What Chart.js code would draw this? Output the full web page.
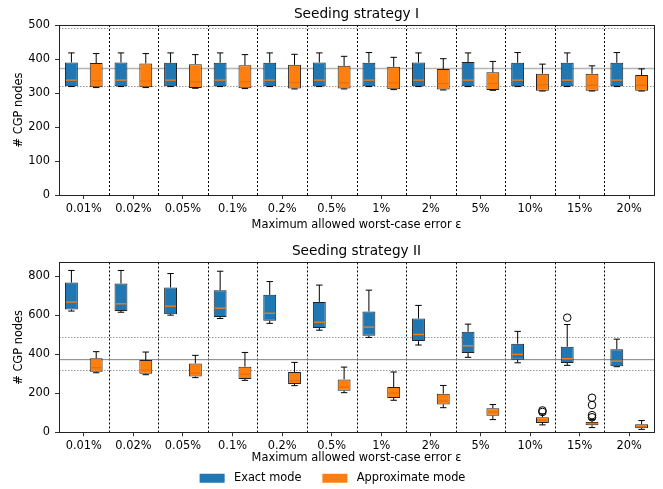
<!DOCTYPE html>
<html>
<head>
<meta charset="utf-8">
<script src="https://cdn.jsdelivr.net/npm/chart.js@4.4.1/dist/chart.umd.min.js"></script>
<style>
body{margin:0;background:#fff;overflow:hidden}
canvas{display:block}
</style>
</head>
<body>
<canvas id="topChart" width="663" height="232"></canvas>
<canvas id="bottomChart" width="663" height="262"></canvas>
<script>
var categories = ['0.01%', '0.02%', '0.05%', '0.1%', '0.2%', '0.5%', '1%', '2%', '5%', '10%', '15%', '20%']

// Seeding strategy I - exact mode
var s1ExactLo  = [319, 319, 319, 319, 319, 319, 319, 319, 319, 319, 319, 319]
var s1ExactQ1  = [320, 320, 320, 320, 320, 320, 320, 320, 320, 320, 320, 320]
var s1ExactMed = [338, 338, 338, 338, 338, 338, 338, 338, 338, 338, 338, 338]
var s1ExactQ3  = [390, 390, 389, 389, 389, 390, 389, 390, 391, 389, 389, 389]
var s1ExactHi  = [418, 418, 418, 418, 418, 418, 419, 418, 418, 419, 418, 419]
// Seeding strategy I - approximate mode
var s1ApproxLo  = [316, 316, 314, 313, 312, 312, 310, 309, 308, 306, 306, 306]
var s1ApproxQ1  = [317, 317, 315, 314, 313, 313, 311, 310, 309, 307, 307, 307]
var s1ApproxMed = [336, 335, 333, 333, 331, 330, 330, 328, 328, 324, 323, 323]
var s1ApproxQ3  = [388, 387, 385, 382, 383, 380, 377, 371, 361, 357, 357, 353]
var s1ApproxHi  = [416, 416, 413, 413, 414, 408, 405, 401, 393, 385, 380, 371]

// Seeding strategy II - exact mode
var s2ExactLo  = [621, 615, 600, 583, 558, 523, 486, 447, 384, 356, 343, 336]
var s2ExactQ1  = [629, 621, 605, 590, 571, 534, 494, 467, 406, 372, 355, 338]
var s2ExactMed = [667, 658, 646, 636, 610, 564, 539, 501, 443, 399, 377, 365]
var s2ExactQ3  = [767, 762, 742, 728, 704, 668, 619, 583, 515, 454, 438, 426]
var s2ExactHi  = [829, 829, 813, 825, 772, 754, 728, 650, 554, 517, 552, 477]
var s2ExactOut = [[], [], [], [], [], [], [], [], [], [], [587], []]
// Seeding strategy II - approximate mode
var s2ApproxLo  = [305, 295, 280, 266, 239, 203, 164, 126, 65, 38, 24, 15]
var s2ApproxQ1  = [310, 300, 286, 273, 247, 213, 176, 143, 85, 48, 36, 21]
var s2ApproxMed = [331, 319, 303, 297, 263, 232, 201, 160, 104, 63, 46, 31]
var s2ApproxQ3  = [379, 370, 353, 336, 309, 271, 232, 198, 123, 77, 53, 41]
var s2ApproxHi  = [413, 411, 394, 409, 358, 334, 309, 240, 142, 94, 65, 60]
var s2ApproxOut = [[], [], [], [], [], [], [], [], [], [104, 112], [77, 88, 140, 177], []]

// reference lines
var refSolid = [372]
var refDotted = [320, 490]

var font = 'DejaVu Sans'

var boxPlugin = {
    id: 'boxes',
    beforeDatasetsDraw(chart) {
        var ctx = chart.ctx
        var xs = chart.scales.x, ys = chart.scales.y
        var area = chart.chartArea
        var opts = chart.options.plugins.boxes
        ctx.save()
        // separators between categories
        ctx.strokeStyle = '#000'
        ctx.lineWidth = 1
        ctx.setLineDash([2, 2])
        for (var i = 0; i < categories.length - 1; i++) {
            var sx = Math.round((xs.getPixelForValue(i) + xs.getPixelForValue(i + 1)) / 2) + 0.5
            ctx.beginPath()
            ctx.moveTo(sx, area.top)
            ctx.lineTo(sx, area.bottom)
            ctx.stroke()
        }
        // reference lines
        ctx.strokeStyle = opts.dotColor
        ctx.setLineDash([1.5, 1.5])
        refDotted.forEach(function (v) {
            var py = Math.round(ys.getPixelForValue(v)) + 0.5
            ctx.beginPath()
            ctx.moveTo(area.left, py)
            ctx.lineTo(area.right, py)
            ctx.stroke()
        })
        ctx.setLineDash([])
        ctx.strokeStyle = opts.solidColor
        ctx.lineWidth = opts.solidWidth
        refSolid.forEach(function (v) {
            var py = ys.getPixelForValue(v)
            ctx.beginPath()
            ctx.moveTo(area.left, py)
            ctx.lineTo(area.right, py)
            ctx.stroke()
        })
        ctx.restore()
    },
    afterDatasetsDraw(chart) {
        var ctx = chart.ctx
        var ys = chart.scales.y
        var area = chart.chartArea
        ctx.save()
        // whiskers, medians, outliers
        chart.data.datasets.forEach(function (ds, d) {
            var meta = chart.getDatasetMeta(d)
            meta.data.forEach(function (bar, i) {
                var x = bar.x, w = bar.width
                var yq1 = ys.getPixelForValue(ds.q1[i])
                var yq3 = ys.getPixelForValue(ds.q3[i])
                var ylo = ys.getPixelForValue(ds.lo[i])
                var yhi = ys.getPixelForValue(ds.hi[i])
                var ym = ys.getPixelForValue(ds.med[i])
                ctx.strokeStyle = '#000'
                ctx.lineWidth = 1
                ctx.beginPath()
                ctx.moveTo(x, yq3); ctx.lineTo(x, yhi)
                ctx.moveTo(x - w / 4, yhi); ctx.lineTo(x + w / 4, yhi)
                ctx.moveTo(x, yq1); ctx.lineTo(x, ylo)
                ctx.moveTo(x - w / 4, ylo); ctx.lineTo(x + w / 4, ylo)
                ctx.stroke()
                ctx.strokeStyle = ds.medColor
                ctx.lineWidth = 1.3
                ctx.beginPath()
                ctx.moveTo(x - w / 2 + 1, ym); ctx.lineTo(x + w / 2 - 1, ym)
                ctx.stroke()
                ctx.strokeStyle = '#000'
                ctx.lineWidth = 1
                ds.out[i].forEach(function (v) {
                    ctx.beginPath()
                    ctx.arc(x, ys.getPixelForValue(v), 3.8, 0, Math.PI * 2)
                    ctx.stroke()
                })
            })
        })
        // frame
        ctx.strokeStyle = '#222'
        ctx.lineWidth = 1
        ctx.strokeRect(Math.round(area.left) + 0.5, Math.round(area.top) + 0.5,
            Math.round(area.right - area.left), Math.round(area.bottom - area.top))
        ctx.restore()
    }
}

function dataset(label, color, medColor, lo, q1, med, q3, hi, out) {
    return {
        label: label,
        data: categories.map(function (c, i) { return [q1[i], q3[i]] }),
        backgroundColor: color,
        borderColor: '#222',
        borderWidth: 1,
        borderSkipped: false,
        categoryPercentage: 1.0,
        barPercentage: 0.52,
        lo: lo, q1: q1, med: med, q3: q3, hi: hi,
        out: out || categories.map(function () { return [] }),
        medColor: medColor
    }
}

// leftPad shifts the legend centre; the y axis width makes up for it so the plot still starts at x=59
function makeChart(canvas, title, yMax, step, sets, showLegend, lineStyle, titlePad, xHeight, xTitlePad, leftPad) {
    return new Chart(canvas, {
        type: 'bar',
        data: { labels: categories, datasets: sets },
        options: {
            responsive: false,
            animation: false,
            devicePixelRatio: 1,
            layout: { padding: { left: leftPad, right: 9, top: 0, bottom: 0 } },
            plugins: {
                tooltip: { enabled: false },
                title: {
                    display: true,
                    fullSize: false,
                    text: title,
                    color: '#000',
                    font: { family: font, size: 13.7, weight: 'normal' },
                    padding: titlePad
                },
                legend: {
                    display: showLegend,
                    position: 'bottom',
                    labels: {
                        color: '#000',
                        boxWidth: 25,
                        boxHeight: 9,
                        padding: 10,
                        font: { family: font, size: 11.4 },
                        generateLabels: function (chart) {
                            return Chart.defaults.plugins.legend.labels.generateLabels(chart).map(function (l, i) {
                                l.lineWidth = 0
                                l.text = ' ' + l.text + (i === 0 ? '   ' : '')
                                return l
                            })
                        }
                    }
                },
                boxes: lineStyle
            },
            scales: {
                x: {
                    offset: true,
                    border: { display: false },
                    grid: { offset: false, drawOnChartArea: false, drawTicks: true, tickLength: 4, color: '#333' },
                    ticks: { color: '#000', font: { family: font, size: 11.4 }, padding: 3, maxRotation: 0, autoSkip: false },
                    title: {
                        display: true,
                        text: 'Maximum allowed worst-case error ε',
                        color: '#000',
                        font: { family: font, size: 11.4 },
                        padding: { top: 0, bottom: xTitlePad }
                    },
                    afterFit: function (s) { s.height = xHeight }
                },
                y: {
                    min: 0,
                    max: yMax,
                    border: { display: false },
                    grid: { drawOnChartArea: false, drawTicks: true, tickLength: 4, color: '#333' },
                    ticks: { stepSize: step, includeBounds: false, color: '#000', font: { family: font, size: 11.4 }, padding: 5 },
                    title: {
                        display: true,
                        text: '# CGP nodes',
                        color: '#000',
                        font: { family: font, size: 11.4 },
                        padding: { top: 12 - leftPad, bottom: 0 }
                    },
                    afterFit: function (s) { s.width = 59 - leftPad }
                }
            }
        },
        plugins: [boxPlugin]
    })
}

var topChart = makeChart(document.getElementById('topChart'), 'Seeding strategy I', 500, 100, [
    dataset('Exact mode', '#1f77b4', '#ff7f0e', s1ExactLo, s1ExactQ1, s1ExactMed, s1ExactQ3, s1ExactHi),
    dataset('Approximate mode', '#ff7f0e', '#e8700a', s1ApproxLo, s1ApproxQ1, s1ApproxMed, s1ApproxQ3, s1ApproxHi)
], false, { dotColor: '#999', solidColor: '#b5b5b5', solidWidth: 1.6 }, { top: 6, bottom: 2.6 }, 37, 0, 0)

var bottomChart = makeChart(document.getElementById('bottomChart'), 'Seeding strategy II', 870, 200, [
    dataset('Exact mode', '#1f77b4', '#ff7f0e', s2ExactLo, s2ExactQ1, s2ExactMed, s2ExactQ3, s2ExactHi, s2ExactOut),
    dataset('Approximate mode', '#ff7f0e', '#e8700a', s2ApproxLo, s2ApproxQ1, s2ApproxMed, s2ApproxQ3, s2ApproxHi, s2ApproxOut)
], true, { dotColor: '#999', solidColor: '#808080', solidWidth: 1 }, { top: 11, bottom: 3 }, 30.3, -2.5, 11)
</script>
</body>
</html>
